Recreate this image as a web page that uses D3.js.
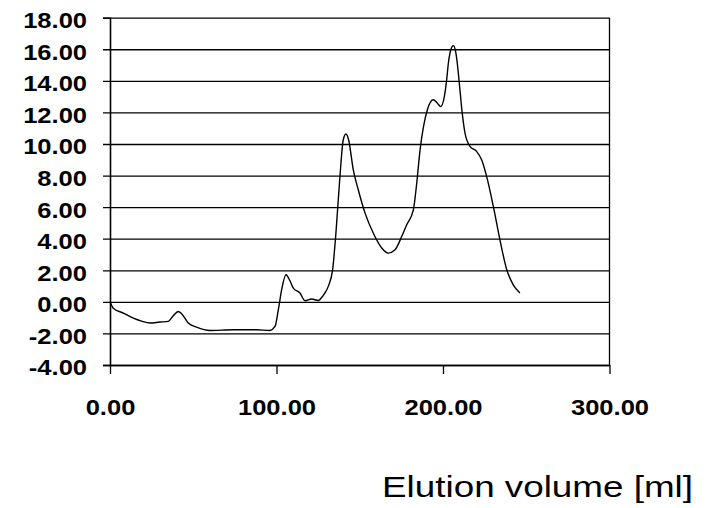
<!DOCTYPE html>
<html>
<head>
<meta charset="utf-8">
<script src="https://cdn.jsdelivr.net/npm/d3@7"></script>
<style>
  body { margin: 0; background: #fff; }
  svg { display: block; }
  .tick text { font-family: "Liberation Sans", Arial, sans-serif; font-weight: bold; font-size: 22px; fill: #000; }
</style>
</head>
<body>
<svg id="chart" width="706" height="508"></svg>
<script>
// elution profile
var volume = [0, 2, 8, 14, 19, 24, 30, 35, 38, 41, 43, 47, 52, 60, 74, 88, 96, 99.1, 101.1, 103.1,
  105.7, 108, 110.1, 114.1, 117.1, 121.1, 125.1, 128, 131.1, 133.7, 135.7, 138.1, 140.1, 141.7, 143.3,
  146.1, 149.1, 153.2, 158.1, 163.2, 167.1, 171.2, 175.2, 178.2, 182.2, 184.2, 186.2, 188.2, 190.7,
  194.2, 196.5, 198.6, 200.8, 202.2, 203.2, 204.8, 206.2, 207.5, 208.6, 210.2, 211.5, 213.2, 216.2,
  220.2, 223.2, 226.2, 230.2, 234.2, 238.3, 242.2, 246.2];
var signal = [0.03, -0.4, -0.71, -1.03, -1.22, -1.34, -1.28, -1.24, -0.88, -0.61, -0.75, -1.34, -1.6, -1.81, -1.77, -1.77, -1.81, -1.56, -0.5, 0.77,
  1.72, 1.35, 0.87, 0.56, 0.07, 0.18, 0.09, 0.4, 0.98, 2.03, 4.37, 7.94, 10.27, 10.63, 10.27,
  8.38, 7.1, 5.62, 4.36, 3.41, 3.09, 3.3, 4.14, 4.88, 5.83, 7.5, 9.6, 11.05, 12.2,
  12.8, 12.6, 12.37, 13.0, 14.06, 15.1, 16.0, 16.23, 15.9, 15.1, 13.4, 12.0, 10.7, 9.85,
  9.53, 9.0, 7.95, 6.06, 3.93, 2.03, 1.08, 0.56];

var xTicks = [0, 100, 200, 300];
var yTicks = [-4, -2, 0, 2, 4, 6, 8, 10, 12, 14, 16, 18];
var xTitle = "Elution volume [ml]";

var svg = d3.select("#chart");
var margin = {top: 17.7, left: 110, right: 96.5, bottom: 143};
var width = 706 - margin.left - margin.right;
var height = 508 - margin.top - margin.bottom;
var stretch = 1.16;

// plain hyphen for negatives, like the original
var fmt = function(d) { return d.toFixed(2); };

var data = volume.map(function(v, i) { return [v, signal[i]]; });

var x = d3.scaleLinear().domain([0, 300]).range([0, width]);
var y = d3.scaleLinear().domain([-4, 18]).range([height, 0]);

var g = svg.append("g")
    .attr("transform", "translate(" + margin.left + "," + margin.top + ")");

// y axis with gridlines
var yAxis = g.append("g")
    .call(d3.axisLeft(y).tickValues(yTicks).tickSize(7).tickFormat(fmt));
yAxis.select(".domain").attr("stroke", "#000").attr("stroke-width", 1.6);
yAxis.selectAll(".tick line")
    .attr("x1", width)
    .attr("stroke", "#000")
    .attr("stroke-width", 1.3);
yAxis.selectAll(".tick text")
    .attr("x", -23 / stretch)
    .attr("dy", "0.45em")
    .attr("transform", "scale(" + stretch + ",1)");

// right border
g.append("line")
    .attr("x1", width).attr("x2", width)
    .attr("y1", 0).attr("y2", height)
    .attr("stroke", "#000")
    .attr("stroke-width", 1.3);

// x axis
var xAxis = g.append("g")
    .attr("transform", "translate(0," + height + ")")
    .call(d3.axisBottom(x).tickValues(xTicks).tickSize(9).tickSizeOuter(0).tickFormat(fmt));
xAxis.select(".domain").attr("stroke", "#000").attr("stroke-width", 1.3);
xAxis.selectAll(".tick line").attr("stroke", "#000").attr("stroke-width", 1.3);
xAxis.selectAll(".tick text")
    .attr("y", 50)
    .attr("dy", 0)
    .attr("transform", "scale(" + stretch + ",1)");

// the trace
var line = d3.line()
    .x(function(d) { return x(d[0]); })
    .y(function(d) { return y(d[1]); })
    .curve(d3.curveMonotoneX);

g.append("path")
    .datum(data)
    .attr("fill", "none")
    .attr("stroke", "#000")
    .attr("stroke-width", 1.4)
    .attr("d", line);

// axis title
svg.append("text")
    .attr("transform", "translate(693,497) scale(1.27,1)")
    .attr("text-anchor", "end")
    .style("font-family", "Liberation Sans, Arial, sans-serif")
    .style("font-size", "29px")
    .text(xTitle);
</script>
</body>
</html>
